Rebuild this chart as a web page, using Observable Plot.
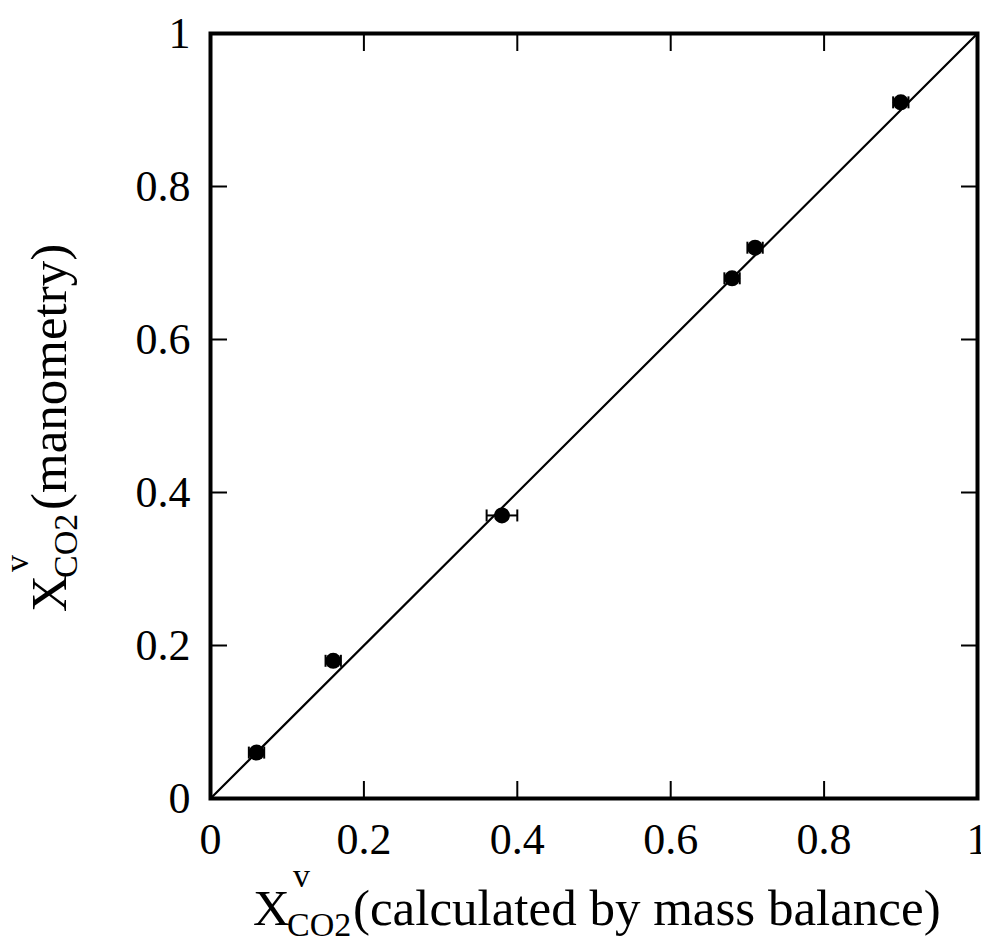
<!DOCTYPE html>
<html>
<head>
<meta charset="utf-8">
<script src="https://cdn.jsdelivr.net/npm/d3@7"></script>
<script src="https://cdn.jsdelivr.net/npm/@observablehq/plot@0.6"></script>
<style>
  html, body { margin: 0; padding: 0; background: #fff; }
  svg { display: block; }
</style>
</head>
<body>
<script>
// CO2 vapour mole fraction: mass-balance estimate vs. manometric measurement
const xCalc = [0.06, 0.16, 0.38, 0.68, 0.71, 0.90];
const yMano = [0.06, 0.18, 0.37, 0.68, 0.72, 0.91];
const xErr  = [0.01, 0.01, 0.02, 0.01, 0.01, 0.01];
const tickValues = [0, 0.2, 0.4, 0.6, 0.8, 1];
const parityLine = [[0, 0], [1, 1]];

const points = xCalc.map((x, i) => ({x, y: yMano[i], xe: xErr[i]}));

// short vertical bar used as error-bar cap
const capSymbol = {
  draw(context) {
    context.moveTo(0, -6);
    context.lineTo(0, 6);
  }
};

const fmt = d => String(d);

const chart = Plot.plot({
  width: 981,
  height: 940,
  marginLeft: 210,
  marginRight: 4,
  marginTop: 33,
  marginBottom: 142,
  style: {fontFamily: "Liberation Serif", fontSize: "44px", background: "#fff", color: "#000"},
  x: {domain: [0, 1]},
  y: {domain: [0, 1]},
  marks: [
    Plot.line(parityLine, {x: d => d[0], y: d => d[1], stroke: "#000", strokeWidth: 2.2}),
    Plot.link(points, {x1: d => d.x - d.xe, x2: d => d.x + d.xe, y1: "y", y2: "y", stroke: "#000", strokeWidth: 2}),
    Plot.dot(points, {x: d => d.x - d.xe, y: "y", symbol: capSymbol, stroke: "#000", strokeWidth: 2, r: 6}),
    Plot.dot(points, {x: d => d.x + d.xe, y: "y", symbol: capSymbol, stroke: "#000", strokeWidth: 2, r: 6}),
    Plot.dot(points, {x: "x", y: "y", r: 8, fill: "#000"}),
    // inward ticks on all four sides
    Plot.axisX({anchor: "bottom", ticks: tickValues, tickSize: -17, tickFormat: () => "", label: null, strokeWidth: 2}),
    Plot.axisX({anchor: "top", ticks: tickValues, tickSize: -17, tickFormat: () => "", label: null, strokeWidth: 2}),
    Plot.axisY({anchor: "left", ticks: tickValues, tickSize: -17, tickFormat: () => "", label: null, strokeWidth: 2}),
    Plot.axisY({anchor: "right", ticks: tickValues, tickSize: -17, tickFormat: () => "", label: null, strokeWidth: 2}),
    // tick labels
    Plot.axisX({anchor: "bottom", ticks: tickValues, tickSize: 0, tickPadding: 24, tickFormat: fmt, label: null, fontSize: 44}),
    Plot.axisY({anchor: "left", ticks: tickValues, tickSize: 0, tickPadding: 20, tickFormat: fmt, label: null, fontSize: 44}),
    Plot.frame({stroke: "#000", strokeWidth: 4})
  ]
});

document.body.appendChild(chart);

// axis titles with superscript / subscript parts
const svg = d3.select(chart);
const titles = svg.append("g")
  .attr("font-family", "Liberation Serif")
  .attr("text-anchor", "start")
  .attr("fill", "#000");

function title(g, parts) {
  for (const p of parts) {
    g.append("text")
      .attr("x", p.u).attr("y", p.v)
      .attr("font-size", p.size)
      .attr("text-anchor", "start")
      .text(p.text);
  }
}

// x title
title(titles.append("g").attr("transform", "translate(253,925)"), [
  {text: "X", u: 0, v: 0, size: 51},
  {text: "v", u: 40, v: -38, size: 34},
  {text: "CO2", u: 34, v: 11, size: 34},
  {text: "(calculated by mass balance)", u: 100, v: 0, size: 51}
]);

// y title (rotated, reading upward)
title(titles.append("g").attr("transform", "translate(66,612) rotate(-90)"), [
  {text: "X", u: 0, v: 0, size: 51},
  {text: "v", u: 40, v: -38, size: 34},
  {text: "CO2", u: 34, v: 11, size: 34},
  {text: "(manometry)", u: 102, v: 0, size: 51}
]);
</script>
</body>
</html>
